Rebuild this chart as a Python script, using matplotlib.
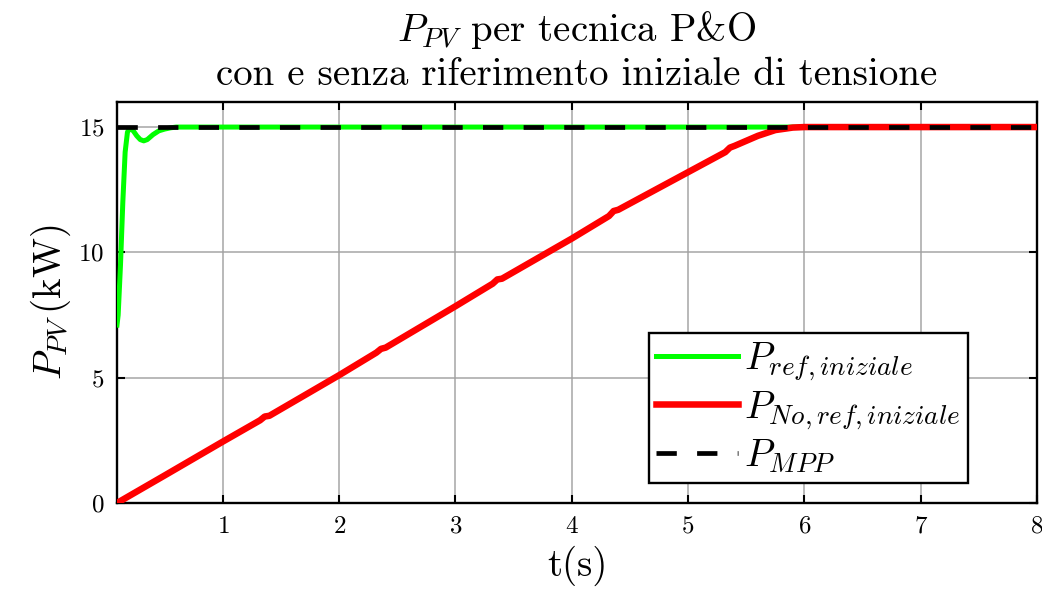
import matplotlib
matplotlib.use("Agg")
import matplotlib.pyplot as plt
import numpy as np

plt.rcParams['font.family'] = 'serif'
plt.rcParams['font.serif'] = ['cmr10', 'DejaVu Serif']
plt.rcParams['mathtext.fontset'] = 'cm'
plt.rcParams['axes.formatter.use_mathtext'] = True

# Green: with initial voltage reference (kW)
t_ref = [0.09, 0.10, 0.12, 0.14, 0.16, 0.18, 0.20, 0.23, 0.26, 0.29, 0.32, 0.35, 0.40, 0.45, 0.50, 0.55, 0.60, 0.70, 1.0, 8.0]
p_ref = [7.1, 7.5, 9.5, 12.0, 14.0, 14.8, 14.95, 14.85, 14.65, 14.5, 14.45, 14.5, 14.7, 14.85, 14.92, 14.97, 15.0, 15.0, 15.0, 15.0]

# Red: without initial voltage reference (kW)
t_noref = [0.09, 0.5, 1.0, 1.32, 1.36, 1.40, 2.0, 2.32, 2.36, 2.40, 3.0, 3.32, 3.36, 3.40, 4.0, 4.32, 4.36, 4.40,
           5.0, 5.32, 5.36, 5.40, 5.6, 5.75, 5.9, 6.0, 8.0]
p_noref = [0.0, 1.1, 2.45, 3.3, 3.45, 3.48, 5.1, 6.0, 6.15, 6.2, 7.85, 8.75, 8.92, 8.95, 10.55, 11.45, 11.65, 11.7,
           13.2, 14.0, 14.18, 14.25, 14.65, 14.88, 14.98, 15.0, 15.0]

# MPP reference (kW)
t_mpp = [0.09, 8.0]
p_mpp = [15.0, 15.0]

fig = plt.figure(figsize=(10.42, 5.95), dpi=100)
ax = fig.add_axes([117/1042, 1 - 503/595, (1037-117)/1042, (503-102)/595])

ax.plot(t_ref, p_ref, color='#00ff00', lw=3.6, label=r'$P_{ref,iniziale}$', zorder=3,
        solid_joinstyle='round')
ax.plot(t_noref, p_noref, color='#ff0000', lw=4.7, label=r'$P_{No,ref,iniziale}$', zorder=4,
        solid_joinstyle='round')
ax.plot(t_mpp, p_mpp, color='black', lw=3.4, dashes=(4.3, 4.3), label=r'$P_{MPP}$', zorder=5)

ax.set_xlim(0.09, 8)
ax.set_ylim(0, 16)
ax.set_xticks([1, 2, 3, 4, 5, 6, 7, 8])
ax.set_yticks([0, 5, 10, 15])
ax.grid(True, color='#a0a0a0', lw=1.3, alpha=0.8)
ax.tick_params(direction='in', top=True, right=True, labelsize=18, length=6, width=1.5, pad=9)
for s in ax.spines.values():
    s.set_linewidth(1.7)

ax.set_xlabel('t(s)', fontsize=28, labelpad=6)
ax.set_ylabel(r'$P_{PV}\,$(kW)', fontsize=28, labelpad=4)
ax.set_title('$P_{PV}$ per tecnica P&O\ncon e senza riferimento iniziale di tensione',
             fontsize=28, pad=12, linespacing=1.25)

leg = ax.legend(loc='lower right', bbox_to_anchor=(0.925, 0.05), fontsize=28, fancybox=False,
                edgecolor='black', framealpha=1, handlelength=2.1, borderpad=0.2,
                labelspacing=0.15, handletextpad=0.15, borderaxespad=0)
leg.get_frame().set_linewidth(1.7)

fig.savefig('out.png', dpi=100)
